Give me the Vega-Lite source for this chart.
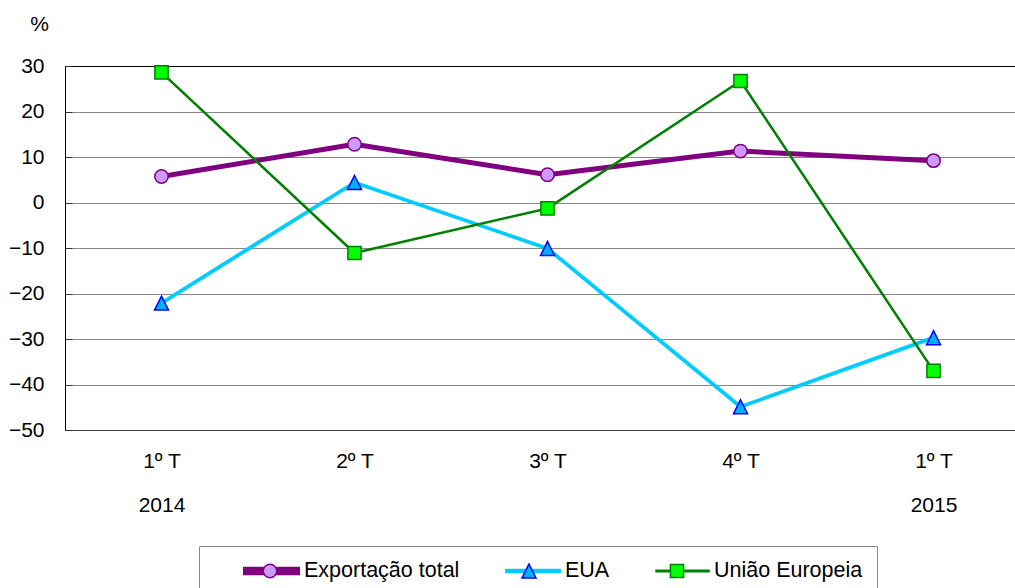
{
  "$schema": "https://vega.github.io/schema/vega-lite/v6.json",
  "autosize": {"type": "none"},
  "padding": {"left": 65, "top": 66, "right": 0, "bottom": 158},
  "width": 950,
  "height": 364,
  "background": "white",
  "config": {"font": "Liberation Sans", "view": {"stroke": null}},
  "data": {
    "values": [
      {"periodo": "1º T 2014", "serie": "Exportação total", "valor": 5.7},
      {"periodo": "2º T 2014", "serie": "Exportação total", "valor": 12.8},
      {"periodo": "3º T 2014", "serie": "Exportação total", "valor": 6.1},
      {"periodo": "4º T 2014", "serie": "Exportação total", "valor": 11.3},
      {"periodo": "1º T 2015", "serie": "Exportação total", "valor": 9.2},
      {"periodo": "1º T 2014", "serie": "EUA", "valor": -22.1},
      {"periodo": "2º T 2014", "serie": "EUA", "valor": 4.4},
      {"periodo": "3º T 2014", "serie": "EUA", "valor": -10.1},
      {"periodo": "4º T 2014", "serie": "EUA", "valor": -44.9},
      {"periodo": "1º T 2015", "serie": "EUA", "valor": -29.7},
      {"periodo": "1º T 2014", "serie": "União Europeia", "valor": 28.6},
      {"periodo": "2º T 2014", "serie": "União Europeia", "valor": -11.1},
      {"periodo": "3º T 2014", "serie": "União Europeia", "valor": -1.3},
      {"periodo": "4º T 2014", "serie": "União Europeia", "valor": 26.7},
      {"periodo": "1º T 2015", "serie": "União Europeia", "valor": -37.0}
    ]
  },
  "layer": [
    {
      "mark": {"type": "line", "strokeJoin": "round"},
      "encoding": {
        "x": {
          "field": "periodo", "type": "ordinal", "sort": null,
          "scale": {"type": "point", "range": [0, 965], "padding": 0.5},
          "axis": {
            "title": null, "ticks": false, "tickSize": 0, "domain": true, "domainColor": "#404040", "grid": false,
            "labelFontSize": 21, "labelColor": "black", "labelPadding": 20, "labelLineHeight": 44, "labelAngle": 0,
            "labelExpr": "[slice(datum.label,0,4), (datum.label == '1º T 2014' || datum.label == '1º T 2015') ? slice(datum.label,5) : '']"
          }
        },
        "y": {
          "field": "valor", "type": "quantitative",
          "scale": {"domain": [-50, 30], "nice": false, "zero": false},
          "axis": {
            "values": [-50, -40, -30, -20, -10, 0, 10, 20, 30],
            "grid": true, "gridColor": {"condition": {"test": "datum.value === 30", "value": "black"}, "value": "#888888"},
            "domain": true, "domainColor": "black", "ticks": true, "tickSize": -7, "tickColor": "#333333",
            "labelFontSize": 21, "labelColor": "black", "labelPadding": 28,
            "title": "%", "titleAngle": 0, "titleX": -26, "titleY": -42, "titleAlign": "center", "titleBaseline": "middle",
            "titleFontSize": 21, "titleFontWeight": "normal", "titleColor": "black"
          }
        },
        "color": {
          "field": "serie", "type": "nominal",
          "scale": {"domain": ["Exportação total", "EUA", "União Europeia"], "range": ["#800080", "#00CCFF", "#008000"]},
          "legend": {
            "orient": "none", "legendX": 134, "legendY": 480, "direction": "horizontal",
            "title": "xx", "titleOrient": "left", "titleOpacity": 0, "titleFontSize": 21, "titlePadding": 6,
            "padding": 14, "strokeColor": "#888888",
            "symbolSize": 2704, "symbolStrokeWidth": 1.5, "clipHeight": 22,
            "labelFontSize": 21.5, "labelLimit": 400, "labelOffset": 4, "labelColor": "black", "columnPadding": 45,
            "labelExpr": "datum.label === 'União Europeia' ? datum.label + '\u00a0\u00a0\u00a0\u00a0' : datum.label",
            "encode": {
              "symbols": {
                "update": {
                  "shape": {"signal": "datum.value === 'Exportação total' ? 'M-1,-0.067H1V0.067H-1Z' : datum.value === 'EUA' ? 'M-1,-0.019H1V0.019H-1Z' : 'M-1,-0.0096H1V0.0096H-1Z'"},
                  "fill": {"signal": "scale('color', datum.value)"},
                  "strokeWidth": {"value": 1.5}
                }
              }
            }
          }
        },
        "strokeWidth": {
          "field": "serie", "type": "nominal",
          "scale": {"domain": ["Exportação total", "EUA", "União Europeia"], "range": [5, 2.5, 2]},
          "legend": null
        }
      }
    },
    {
      "mark": {"type": "point", "filled": true, "opacity": 1, "size": 2704, "strokeWidth": 1.5},
      "encoding": {
        "x": {"field": "periodo", "type": "ordinal", "sort": null},
        "y": {"field": "valor", "type": "quantitative"},
        "shape": {
          "field": "serie", "type": "nominal", "sort": null,
          "scale": {"range": [
            "M-1,0M1,0M0.258,0A0.258,0.258,0,1,1,-0.258,0A0.258,0.258,0,1,1,0.258,0Z",
            "M-1,0M1,0M0,-0.269L0.269,0.269L-0.269,0.269Z",
            "M-1,0M1,0M-0.254,-0.254H0.254V0.254H-0.254Z"
          ]},
          "legend": {
            "orient": "none", "legendX": 134, "legendY": 480, "direction": "horizontal",
            "title": "xx", "titleOrient": "left", "titleOpacity": 0, "titleFontSize": 21, "titlePadding": 6,
            "padding": 14,
            "symbolSize": 2704, "symbolStrokeWidth": 1.5, "clipHeight": 22, "symbolOpacity": 1,
            "labelFontSize": 21.5, "labelLimit": 400, "labelOffset": 4, "labelOpacity": 0, "columnPadding": 45,
            "labelExpr": "datum.label === 'União Europeia' ? datum.label + '\u00a0\u00a0\u00a0\u00a0' : datum.label"
          }
        },
        "fill": {
          "field": "serie", "type": "nominal", "sort": null,
          "scale": {"range": ["#CC99FF", "#00B0F0", "#00FF00"]}
        },
        "stroke": {
          "field": "serie", "type": "nominal", "sort": null,
          "scale": {"range": ["#800080", "#0000FF", "#008000"]}
        }
      }
    }
  ]
}
